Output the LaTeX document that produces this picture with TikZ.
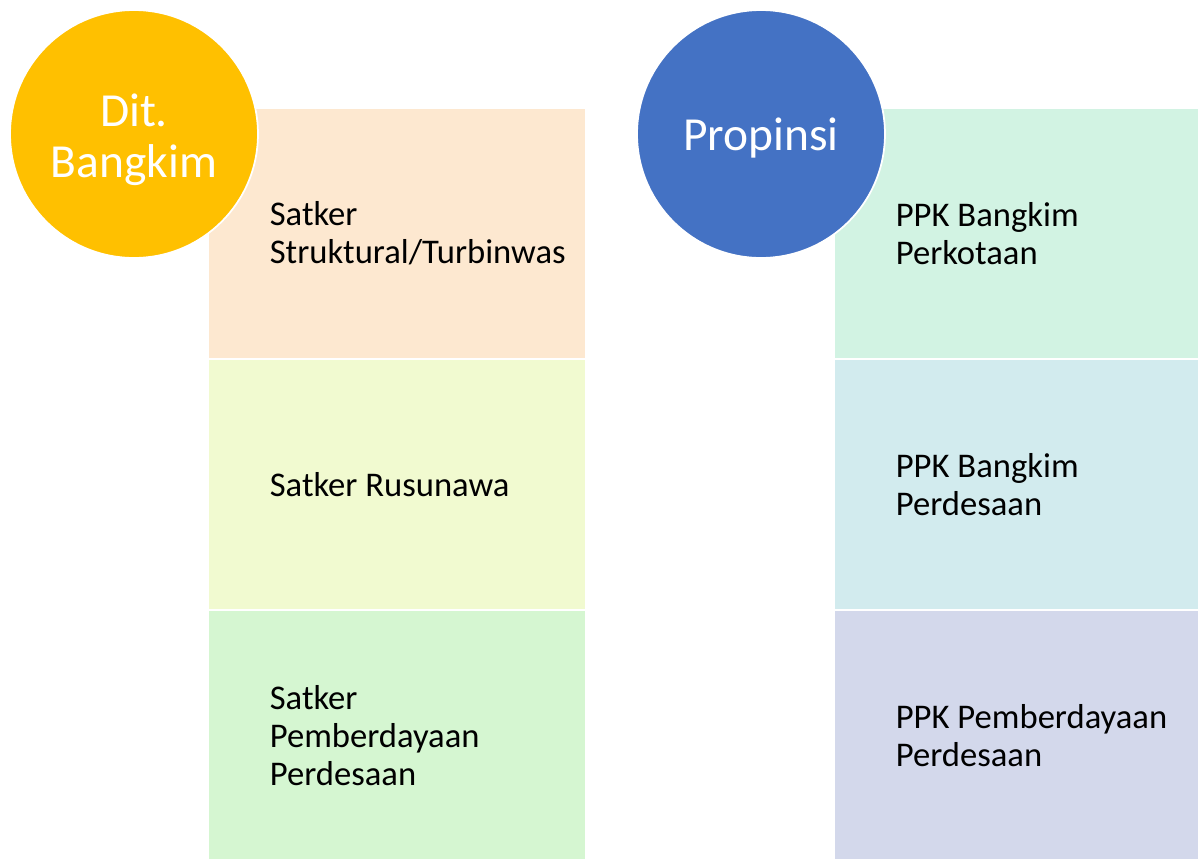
\documentclass[tikz,border=0pt]{standalone}
\usepackage{fontspec}
\setmainfont{Carlito}
\usetikzlibrary{positioning}

\definecolor{ditgold}{HTML}{FFC000}
\definecolor{propblue}{HTML}{4472C4}
\definecolor{peach}{HTML}{FDE8D0}
\definecolor{lime}{HTML}{F1FAD0}
\definecolor{mint}{HTML}{D5F6D1}
\definecolor{seafoam}{HTML}{D2F3E3}
\definecolor{ice}{HTML}{D2EBEE}
\definecolor{lavender}{HTML}{D3D8EB}

\tikzset{
	unitbox/.style={rectangle, draw=white, line width=0.6pt, minimum width=7.56cm, minimum height=5cm, inner sep=0pt},
	boxtext/.style={anchor=west, align=left, inner sep=0pt, font=\fontsize{19.7}{21.5}\selectfont},
	headcircle/.style={circle, draw=white, line width=1pt, minimum size=4.96cm, inner sep=0pt},
	headtext/.style={text=white, align=center, inner sep=0pt, font=\fontsize{27}{29}\selectfont}
}

\begin{document}
\begin{tikzpicture}[x=0.02cm, y=-0.02cm]
		\useasboundingbox (0,0) rectangle (1198,859);
		% kolom kiri
		\node[unitbox, fill=peach] (satker1) at (397,233.5) {};
		\node[unitbox, fill=lime, below=0pt of satker1] (satker2) {};
		\node[unitbox, fill=mint, below=0pt of satker2] (satker3) {};
		\node[boxtext] (t1) at ([xshift=1.24cm]satker1.west) {Satker\\Struktural/Turbinwas};
		\node[boxtext] (t2) at ([xshift=1.24cm]satker2.west) {Satker Rusunawa};
		\node[boxtext] (t3) at ([xshift=1.24cm]satker3.west) {Satker\\Pemberdayaan\\Perdesaan};
		\node[headcircle, fill=ditgold] (dit) at (134,134) {};
		\node[headtext] (dittext) at ([yshift=-0.11cm]dit.center) {Dit.\\Bangkim};

		% kolom kanan
		\node[unitbox, fill=seafoam, minimum width=7.3cm] (ppk1) at (1016.5,233.5) {};
		\node[unitbox, fill=ice, minimum width=7.3cm, below=0pt of ppk1] (ppk2) {};
		\node[unitbox, fill=lavender, minimum width=7.3cm, below=0pt of ppk2] (ppk3) {};
		\node[boxtext] (p1) at ([xshift=1.24cm]ppk1.west) {PPK Bangkim\\Perkotaan};
		\node[boxtext] (p2) at ([xshift=1.24cm]ppk2.west) {PPK Bangkim\\Perdesaan};
		\node[boxtext] (p3) at ([xshift=1.24cm]ppk3.west) {PPK Pemberdayaan\\Perdesaan};
		\node[headcircle, fill=propblue] (prop) at (761,134) {};
		\node[headtext] (proptext) at ([yshift=-0.08cm]prop.center) {Propinsi};
	\end{tikzpicture}
\end{document}
